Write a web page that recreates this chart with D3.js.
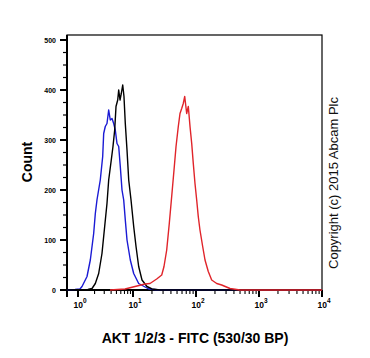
<!DOCTYPE html>
<html>
<head>
<meta charset="utf-8">
<script src="https://cdn.jsdelivr.net/npm/d3@7"></script>
<style>
  body { margin: 0; background: #fff; }
  text { font-family: "Liberation Sans", Arial, sans-serif; }
</style>
</head>
<body>
<svg></svg>
<script>
// x values are decades (log10 of FITC intensity), y values are event counts
const unstained = [[-0.3, 0], [-0.08, 1], [0.036, 2], [0.073, 7], [0.164, 27], [0.224, 60], [0.285, 113], [0.315, 153],
  [0.345, 180], [0.405, 220], [0.449, 267], [0.467, 313], [0.496, 327], [0.527, 333], [0.558, 360], [0.587, 340],
  [0.618, 343], [0.649, 333], [0.678, 320], [0.709, 293], [0.74, 287], [0.769, 247], [0.8, 200], [0.831, 180],
  [0.86, 140], [0.891, 100], [0.951, 60], [1.011, 33], [1.09, 13], [1.25, 2], [1.43, 0], [4, 0]]

const isotype = [[-0.3, 0], [0.18, 1], [0.255, 3], [0.315, 13], [0.376, 33], [0.436, 73], [0.485, 127], [0.527, 173],
  [0.558, 220], [0.605, 260], [0.636, 287], [0.667, 320], [0.691, 367], [0.722, 380], [0.74, 400], [0.764, 380],
  [0.787, 393], [0.813, 410], [0.836, 387], [0.86, 333], [0.891, 280], [0.922, 220], [0.964, 180], [1.011, 127],
  [1.048, 87], [1.09, 47], [1.143, 20], [1.222, 7], [1.302, 2], [1.43, 0], [4, 0]]

const akt = [[0.582, 0], [0.855, 2], [1.063, 8], [1.19, 12], [1.27, 13], [1.376, 22], [1.456, 30], [1.492, 47],
  [1.535, 80], [1.576, 133], [1.614, 187], [1.651, 240], [1.683, 287], [1.719, 327], [1.746, 353], [1.773, 363],
  [1.798, 373], [1.821, 387], [1.852, 353], [1.878, 367], [1.905, 327], [1.932, 293], [1.957, 253], [1.984, 213],
  [2.011, 180], [2.036, 147], [2.063, 120], [2.106, 87], [2.143, 60], [2.195, 37], [2.249, 20], [2.329, 13],
  [2.408, 10], [2.54, 3], [2.698, 0], [4, 0]]

const yTicks = [0, 100, 200, 300, 400, 500]
const xDecades = [0, 1, 2, 3, 4]

let width = 370
let height = 358
let svg = d3.select('svg').attr('width', width).attr('height', height)

// biexponential-like display: the first decade is squeezed
let xScale = d3.scaleLinear()
    .domain([-0.3, 0, 1, 4])
    .range([67, 78, 133, 322])

let yScale = d3.scaleLinear()
    .domain([0, 510])
    .range([290, 35])

// frame
svg.append('rect')
    .attr('x', 67).attr('y', 35)
    .attr('width', 255).attr('height', 255)
    .attr('fill', 'none')
    .attr('stroke', '#000')
    .attr('stroke-width', 1.2)

// y axis
let minorY = d3.range(0, 501, 25)
svg.append('g').selectAll('line')
    .data(minorY)
    .enter()
    .append('line')
    .attr('x1', (d) => d % 100 == 0 ? 60 : 63)
    .attr('x2', 67)
    .attr('y1', (d) => yScale(d))
    .attr('y2', (d) => yScale(d))
    .attr('stroke', '#000')
    .attr('stroke-width', (d) => d % 100 == 0 ? 2 : 1.2)

svg.append('g').selectAll('text')
    .data(yTicks)
    .enter()
    .append('text')
    .attr('x', 56)
    .attr('y', (d) => yScale(d) + 2.5)
    .attr('text-anchor', 'end')
    .attr('font-size', '7px')
    .attr('font-weight', 'bold')
    .text((d) => d)

svg.append('line')
    .attr('x1', 67).attr('x2', 67)
    .attr('y1', 35).attr('y2', 297)
    .attr('stroke', '#000').attr('stroke-width', 2)

// x axis
let minorX = []
for (let k = 0; k < 4; k++) {
    for (let m = 2; m < 10; m++) minorX.push(k + Math.log10(m))
}
svg.append('line')
    .attr('x1', 67).attr('x2', 322)
    .attr('y1', 290).attr('y2', 290)
    .attr('stroke', '#000').attr('stroke-width', 2)

svg.append('g').selectAll('line')
    .data(minorX)
    .enter()
    .append('line')
    .attr('x1', (d) => xScale(d))
    .attr('x2', (d) => xScale(d))
    .attr('y1', 290)
    .attr('y2', 294)
    .attr('stroke', '#000')
    .attr('stroke-width', 1.1)

svg.append('g').selectAll('line')
    .data(xDecades)
    .enter()
    .append('line')
    .attr('x1', (d) => xScale(d))
    .attr('x2', (d) => xScale(d))
    .attr('y1', 290)
    .attr('y2', 297)
    .attr('stroke', '#000')
    .attr('stroke-width', 2)

let xLabels = svg.append('g').selectAll('text')
    .data(xDecades)
    .enter()
    .append('text')
    .attr('x', (d) => xScale(d) - 4.5)
    .attr('y', 308)
    .attr('font-size', '8.5px')
    .attr('font-weight', 'bold')
xLabels.append('tspan').text('10')
xLabels.append('tspan')
    .attr('dy', -5)
    .attr('font-size', '6.5px')
    .text((d) => d)

// histograms
let line = d3.line()
    .x((d) => xScale(d[0]))
    .y((d) => yScale(d[1]))

let series = [[unstained, '#1a1ad4'], [isotype, '#000000'], [akt, '#e0242a']]
svg.append('g').selectAll('path')
    .data(series)
    .enter()
    .append('path')
    .attr('d', (d) => line(d[0]))
    .attr('fill', 'none')
    .attr('stroke', (d) => d[1])
    .attr('stroke-width', 1.4)
    .attr('stroke-linejoin', 'round')

// titles
svg.append('text')
    .attr('transform', 'translate(32,162) rotate(-90)')
    .attr('text-anchor', 'middle')
    .attr('font-size', '14px')
    .attr('font-weight', 'bold')
    .text('Count')

svg.append('text')
    .attr('x', 195)
    .attr('y', 343)
    .attr('text-anchor', 'middle')
    .attr('font-size', '14px')
    .attr('font-weight', 'bold')
    .text('AKT 1/2/3 - FITC (530/30 BP)')

svg.append('text')
    .attr('transform', 'translate(338,183) rotate(-90)')
    .attr('text-anchor', 'middle')
    .attr('font-size', '13px')
    .attr('fill', '#111')
    .text('Copyright (c) 2015 Abcam Plc')
</script>
</body>
</html>
